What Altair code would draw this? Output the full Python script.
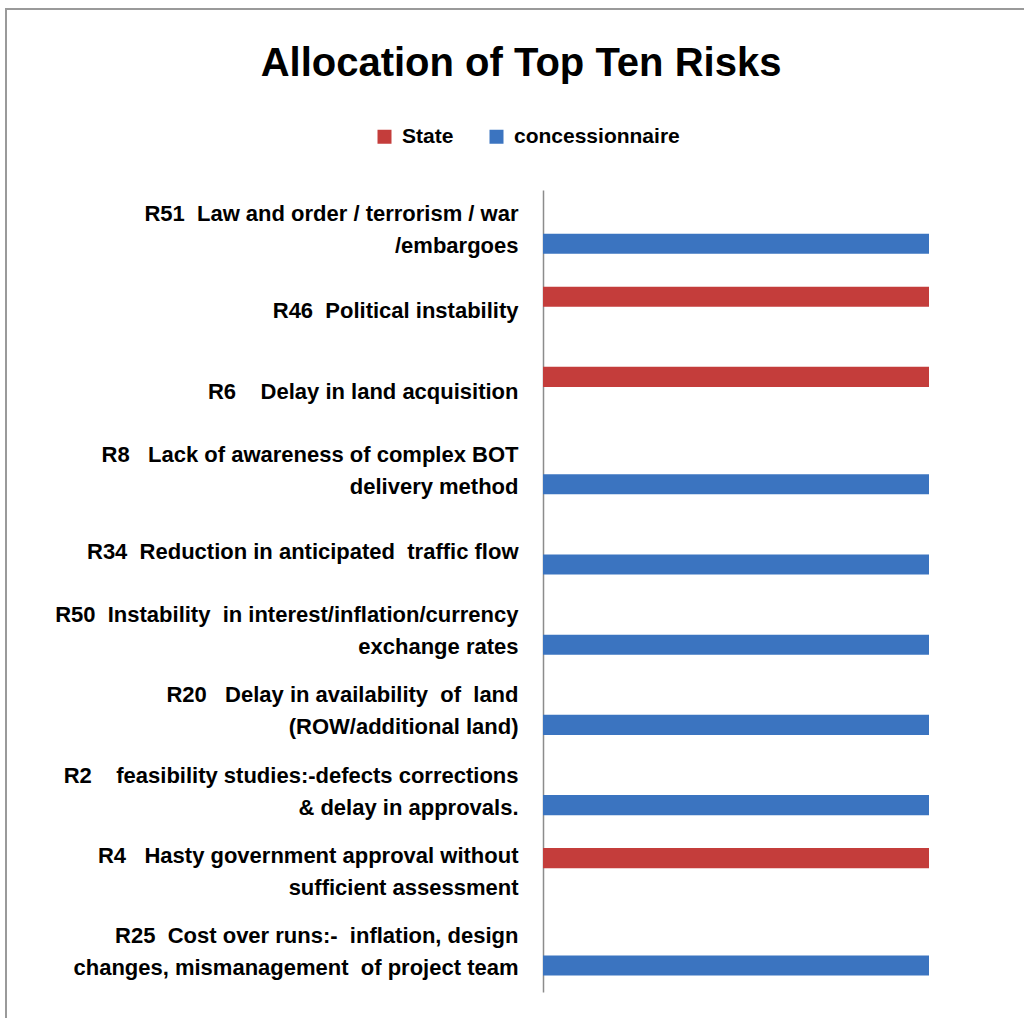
import re
import altair as alt
import pandas as pd

risks = [
    "R51  Law and order / terrorism / war|/embargoes",
    "R46  Political instability",
    "R6    Delay in land acquisition",
    "R8   Lack of awareness of complex BOT|delivery method",
    "R34  Reduction in anticipated  traffic flow",
    "R50  Instability  in interest/inflation/currency|exchange rates",
    "R20   Delay in availability  of  land|(ROW/additional land)",
    "R2    feasibility studies:-defects corrections|& delay in approvals.",
    "R4   Hasty government approval without|sufficient assessment",
    "R25  Cost over runs:-  inflation, design|changes, mismanagement  of project team",
]
series = ["State", "concessionnaire"]
state_values = [0, 1, 1, 0, 0, 0, 0, 0, 1, 0]
conc_values = [1, 0, 0, 1, 1, 1, 1, 1, 0, 1]
colors = ["#C43D3B", "#3B74C0"]

# keep runs of spaces visible in SVG text
risks = [re.sub(r" {2,}", lambda m: "\u00a0" * len(m.group()), r) for r in risks]

rows = []
for r, s, c in zip(risks, state_values, conc_values):
    rows.append({"risk": r, "party": "State", "value": s})
    rows.append({"risk": r, "party": "concessionnaire", "value": c})
df = pd.DataFrame(rows)

FONT = "Liberation Sans"

bars = alt.Chart(df).mark_bar().encode(
    y=alt.Y("risk:N", sort=risks, title=None,
            scale=alt.Scale(paddingInner=0.41, paddingOuter=0.205),
            axis=alt.Axis(labelExpr="split(datum.label, '|')", labelLineHeight=32,
                          labelOffset={"condition": {"test": "indexof(datum.value, '|') >= 0",
                                                     "value": -16},
                                       "value": 1},
                          labelLimit=700, labelPadding=25, labelFontSize=22,
                          labelFont=FONT, labelFontWeight="bold",
                          labelColor="#000000", ticks=False,
                          domainColor="#8c8c8c", domainWidth=1.5, grid=False)),
    yOffset=alt.YOffset("party:N", sort=series,
                        scale=alt.Scale(paddingInner=0.26, paddingOuter=0)),
    x=alt.X("value:Q", scale=alt.Scale(domain=[0, 1]), axis=None),
    color=alt.Color("party:N", sort=series,
                    scale=alt.Scale(domain=series, range=colors),
                    legend=alt.Legend(title=None, orient="none", direction="horizontal",
                                      legendX=-169, legendY=-64,
                                      symbolType="square", symbolSize=196,
                                      symbolStrokeWidth=0,
                                      labelFontSize=21, labelFont=FONT,
                                      labelFontWeight="bold", labelLimit=400,
                                      labelColor="#000000", labelOffset=7,
                                      columnPadding=32)),
)

frame = alt.Chart(alt.Data(values=[{}])).mark_rect(
    fill="transparent", stroke="#9a9a9a", strokeWidth=2
).encode(
    x=alt.value(-537), x2=alt.value(490), y=alt.value(-181), y2=alt.value(840)
)

chart = alt.layer(frame, bars).properties(
    width=386,
    height=802,
    title=alt.TitleParams("Allocation of Top Ten Risks", fontSize=40, font=FONT,
                          fontWeight="bold", color="#000000", anchor="middle",
                          dx=-215, dy=80),
    autosize=alt.AutoSizeParams(type="none"),
    padding={"left": 543, "top": 190, "right": 95, "bottom": 26},
).configure_view(stroke=None)

chart.save("out.html", embed_options={"renderer": "svg", "actions": False})
